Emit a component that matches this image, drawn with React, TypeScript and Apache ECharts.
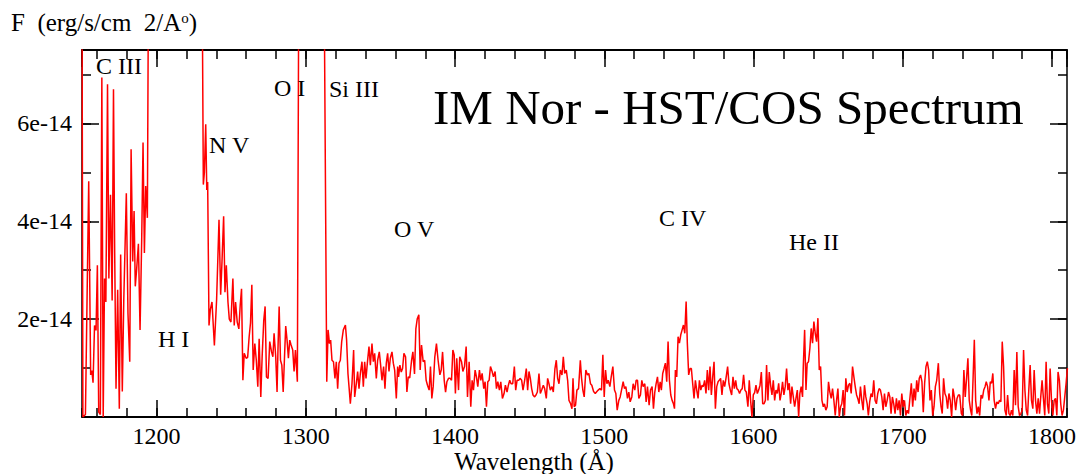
import React, { useEffect, useRef } from "react";
import * as echarts from "echarts";

// Flux values are in units of 1e-14 erg/s/cm2/A ; wavelength in Angstrom
const cIIIRegion: [number, number][] = [
  [1150.0, 9.0], [1150.6, 0.0], [1152.3, 0.05], [1154.5, 4.82], [1155.8, 0.86], [1156.6, 0.95],
  [1157.4, 0.7], [1158.4, 1.87], [1159.4, 1.77], [1160.3, 3.1], [1161.2, 0.1], [1162.3, 0.05],
  [1163.3, 6.94], [1164.2, 0.0], [1165.1, 2.83], [1166.0, 2.35], [1167.1, 6.8], [1168.0, 2.83],
  [1169.1, 4.54], [1170.2, 2.38], [1171.1, 6.7], [1171.9, 3.35], [1172.8, 0.58], [1173.9, 2.6],
  [1175.0, 0.17], [1175.9, 3.32], [1177.0, 0.52], [1178.0, 2.4], [1179.7, 4.57], [1180.8, 2.12],
  [1182.0, 1.13], [1182.9, 5.47], [1184.0, 3.18], [1184.9, 4.21], [1185.7, 2.67], [1186.6, 3.01],
  [1187.8, 3.54], [1188.9, 1.78], [1190.0, 3.63], [1190.9, 5.61], [1191.8, 3.35], [1192.7, 4.72],
  [1193.8, 4.07], [1195.0, 12.0],
];

const lymanAlphaRegion: [number, number][] = [
  [1196.5, 18], [1200, 25], [1205, 35], [1210, 50], [1215, 90], [1220, 45], [1225, 25], [1229, 14],
];

const nVRegion: [number, number][] = [
  [1230.3, 10], [1231.3, 4.75], [1232.0, 5.0], [1232.9, 5.98], [1233.6, 4.64], [1234.2, 4.8],
  [1235.1, 1.87], [1236.0, 2.2], [1237.1, 2.35], [1238.7, 1.46], [1240.2, 2.4], [1241.8, 4.03],
  [1242.9, 2.5], [1243.8, 3.17], [1244.9, 4.1], [1245.8, 2.55], [1246.7, 3.1], [1247.8, 2.35],
  [1248.7, 2.0], [1249.8, 1.94], [1251.1, 2.83], [1252.0, 1.87], [1252.9, 2.35], [1254.0, 1.94],
  [1255.1, 1.8], [1256.0, 2.28], [1256.9, 2.62], [1257.8, 0.75], [1258.7, 1.3], [1260.0, 1.2],
  [1261.0, 1.22], [1262.0, 1.64], [1262.9, 1.92], [1263.8, 2.7], [1264.7, 0.96], [1265.8, 1.5],
  [1266.8, 1.16], [1267.8, 0.62], [1268.7, 1.6], [1269.8, 0.41], [1270.7, 1.23], [1271.8, 1.98],
  [1272.7, 2.26], [1273.6, 0.82], [1274.7, 0.79], [1275.8, 1.54], [1277.0, 1.33], [1277.9, 1.23],
  [1278.7, 1.71], [1279.8, 1.23], [1280.7, 0.51], [1281.3, 1.37], [1282.1, 2.26], [1283.0, 1.16],
  [1283.9, 1.06], [1284.8, 0.51], [1285.7, 1.23], [1286.5, 1.86], [1287.4, 1.57], [1288.3, 1.2],
  [1289.2, 1.57], [1290.1, 1.47], [1291.2, 1.37], [1292.1, 0.93], [1293.0, 1.37], [1294.3, 0.72],
  [1295.6, 12],
];

const oISiIIIRegion: [number, number][] = [
  [1298, 25], [1302, 40], [1306, 30], [1310, 20], [1312.0, 10],
];

const blueContinuum: [number, number][] = [
  [1314.0, 0.72], [1314.9, 1.78], [1315.8, 1.5], [1316.6, 1.57], [1317.5, 1.16], [1318.5, 1.13],
  [1319.5, 0.79], [1320.4, 1.13], [1321.3, 0.58], [1322.2, 1.1], [1323.1, 1.16], [1324.0, 1.54],
  [1325.1, 1.78], [1326.5, 1.88], [1327.3, 1.57], [1328.2, 0.89], [1329.1, 0.55], [1329.8, 0.27],
  [1330.9, 0.68], [1332.0, 1.37], [1332.7, 0.41], [1333.8, 0.68], [1334.7, 0.93], [1335.6, 0.58],
  [1336.5, 0.89], [1337.6, 1.13], [1338.5, 0.62], [1339.4, 1.13], [1340.3, 0.79], [1341.2, 1.1],
  [1342.3, 1.44], [1343.2, 1.06], [1344.3, 1.5], [1345.2, 1.13], [1346.1, 1.3], [1347.2, 0.79],
  [1348.1, 1.16], [1349.2, 1.33], [1350.1, 1.06], [1351.0, 0.75], [1352.1, 1.03], [1353.0, 0.58],
  [1353.9, 1.1], [1354.8, 1.3], [1355.7, 0.93], [1356.6, 1.2], [1357.7, 1.33], [1358.6, 1.1],
  [1359.5, 0.96], [1360.6, 0.38], [1361.5, 1.03], [1362.1, 0.82], [1363.0, 1.06], [1363.9, 0.92],
  [1364.8, 0.99], [1365.7, 1.3], [1366.8, 1.23], [1367.7, 0.51], [1368.6, 0.82], [1369.6, 0.8],
  [1370.8, 1.15], [1371.7, 1.33], [1372.8, 0.88], [1373.7, 1.8], [1374.6, 2.0], [1375.7, 2.09],
  [1376.6, 0.96], [1377.5, 1.47], [1378.6, 1.13], [1379.6, 1.16], [1380.6, 0.75], [1381.5, 0.65],
  [1382.6, 0.55], [1383.5, 1.03], [1384.4, 0.38], [1385.3, 0.62], [1386.4, 1.23], [1387.5, 1.5],
  [1388.6, 1.16], [1389.8, 0.86], [1390.7, 0.96], [1391.6, 1.33], [1392.7, 0.75], [1393.6, 0.51],
  [1394.5, 0.72], [1395.6, 0.79], [1396.7, 0.79], [1397.6, 0.75], [1398.5, 1.37], [1399.4, 1.27],
];

const midContinuum: [number, number][] = [
  [1400.2, 0.48], [1401.1, 1.2], [1402.3, 0.55], [1403.1, 1.23], [1404.3, 1.13], [1405.2, 0.93],
  [1406.3, 1.03], [1407.4, 1.44], [1408.3, 0.41], [1409.4, 1.13], [1410.5, 0.21], [1411.4, 0.75],
  [1412.3, 0.55], [1413.4, 0.96], [1414.3, 0.82], [1415.2, 0.62], [1416.3, 0.96], [1417.2, 0.75],
  [1418.1, 0.89], [1419.2, 0.58], [1420.1, 0.72], [1421.0, 0.21], [1421.9, 0.72], [1422.8, 0.75],
  [1423.7, 1.03], [1424.8, 0.93], [1425.7, 0.82], [1426.8, 0.93], [1427.7, 0.58], [1428.6, 0.72],
  [1429.7, 0.55], [1430.6, 0.72], [1431.7, 0.38], [1432.8, 0.48], [1433.7, 0.65], [1434.8, 0.51],
  [1435.7, 0.65], [1436.6, 0.75], [1437.5, 0.68], [1438.6, 0.68], [1439.7, 1.03], [1440.6, 0.55],
  [1441.5, 0.75], [1442.6, 0.75], [1443.5, 0.79], [1444.6, 0.75], [1445.5, 0.55], [1446.6, 0.75],
  [1447.7, 0.99], [1448.6, 0.55], [1449.5, 0.93], [1450.4, 0.79], [1451.3, 0.58], [1452.2, 0.45],
  [1453.3, 0.41], [1454.2, 0.45], [1455.1, 0.51], [1456.2, 0.89], [1457.1, 0.48], [1458.0, 0.55],
  [1459.1, 0.65], [1460.0, 0.58], [1461.1, 0.38], [1462.0, 0.79], [1462.9, 0.68], [1463.8, 0.55],
  [1464.9, 0.62], [1465.8, 0.51], [1466.9, 0.99], [1467.8, 1.16], [1468.7, 0.79], [1469.6, 0.68],
  [1470.5, 0.96], [1471.6, 0.86], [1472.5, 1.23], [1473.4, 0.89], [1474.5, 0.96], [1475.4, 0.75],
  [1476.3, 0.34], [1477.4, 0.27], [1478.3, 0.17], [1479.0, 0.79], [1479.8, 0.21], [1480.7, 0.24],
  [1481.6, 0.55], [1482.7, 0.58], [1483.9, 1.16], [1484.7, 0.8], [1485.6, 0.55], [1486.5, 0.41],
  [1487.6, 0.96], [1488.7, 0.86], [1489.6, 0.89], [1490.7, 0.68], [1491.6, 0.65], [1492.8, 0.52],
  [1493.9, 0.48], [1495.0, 0.52], [1495.9, 0.55], [1497.0, 0.58], [1498.1, 0.55], [1499.0, 1.27],
  [1499.9, 0.41],
];

const cIVRegion: [number, number][] = [
  [1500.8, 0.96], [1501.7, 0.68], [1502.6, 0.75], [1503.7, 0.62], [1504.6, 0.82], [1505.7, 1.03],
  [1506.8, 0.55], [1507.7, 0.48], [1508.6, 0.14], [1509.7, 0.34], [1510.6, 0.41], [1511.5, 0.55],
  [1512.6, 0.72], [1513.5, 0.58], [1514.4, 0.62], [1515.5, 0.38], [1516.4, 0.51], [1517.3, 0.31],
  [1518.4, 0.41], [1519.3, 0.68], [1520.4, 0.55], [1521.3, 0.75], [1522.2, 0.75], [1523.1, 0.38],
  [1524.2, 0.45], [1525.1, 0.75], [1526.0, 0.62], [1527.1, 0.68], [1528.0, 0.31], [1528.9, 0.62],
  [1530.0, 0.24], [1530.9, 0.55], [1532.0, 0.62], [1532.9, 0.17], [1533.8, 0.51], [1534.7, 0.68],
  [1535.6, 0.82], [1536.5, 0.51], [1537.4, 0.72], [1538.2, 0.55], [1539.1, 0.89], [1540.0, 0.99],
  [1540.9, 1.1], [1541.8, 0.72], [1542.7, 1.54], [1543.6, 0.75], [1544.5, 0.45], [1545.4, 0.34],
  [1546.3, 0.27], [1547.0, 0.17], [1547.6, 0.96], [1548.5, 0.82], [1549.4, 1.64], [1550.3, 1.51],
  [1551.2, 1.68], [1552.1, 1.78], [1553.0, 1.88], [1553.9, 1.71], [1554.8, 2.36], [1555.6, 1.51],
  [1556.5, 0.86], [1557.4, 0.99], [1558.3, 0.99], [1559.2, 0.68], [1560.1, 0.38], [1561.0, 0.75],
  [1561.9, 0.55], [1562.8, 0.38], [1563.7, 0.75], [1564.6, 0.55], [1565.5, 0.65], [1566.3, 0.62],
  [1567.2, 0.75], [1568.1, 0.48], [1569.0, 0.96], [1569.9, 0.55], [1570.8, 1.03], [1571.7, 0.45],
  [1572.6, 0.82], [1573.5, 1.13], [1574.4, 0.17], [1575.3, 0.62], [1576.2, 0.72], [1577.0, 0.75],
  [1577.9, 0.79], [1578.8, 0.45], [1579.7, 0.75], [1580.6, 0.62], [1581.5, 0.79], [1582.6, 1.03],
  [1583.5, 0.68], [1584.4, 0.55], [1585.3, 0.45], [1586.2, 0.82], [1587.1, 0.58], [1588.0, 0.75],
  [1588.8, 0.58], [1589.7, 0.55], [1590.6, 0.48], [1591.5, 0.55], [1592.4, 0.58], [1593.3, 0.86],
  [1594.2, 0.55], [1595.1, 0.51], [1596.2, 0.21], [1597.1, 0.75], [1598.0, 0.34], [1598.9, 0.0],
];

const heIIRegion: [number, number][] = [
  [1599.8, 0.45], [1600.7, 0.5], [1601.6, 0.65], [1602.5, 0.48], [1603.4, 0.55], [1604.3, 0.65],
  [1605.2, 0.92], [1606.1, 0.27], [1607.0, 0.27], [1607.9, 0.34], [1608.7, 1.06], [1609.6, 0.34],
  [1610.5, 0.92], [1611.4, 0.65], [1612.3, 0.45], [1613.2, 0.75], [1614.1, 0.34], [1615.0, 0.55],
  [1615.9, 0.48], [1616.8, 0.69], [1617.7, 0.34], [1618.5, 0.48], [1619.4, 0.72], [1620.3, 0.45],
  [1621.2, 0.62], [1622.1, 0.99], [1623.0, 0.55], [1623.9, 0.69], [1624.8, 0.27], [1625.7, 0.62],
  [1626.6, 0.41], [1627.5, 0.21], [1628.4, 0.38], [1629.3, 0.55], [1630.2, 0.0], [1631.0, 0.48],
  [1631.9, 0.62], [1632.8, 0.41], [1633.3, 1.03], [1634.2, 1.78], [1635.1, 0.55], [1635.9, 1.1],
  [1636.8, 1.13], [1637.7, 1.4], [1638.6, 1.81], [1639.5, 1.51], [1640.4, 1.95], [1641.3, 1.71],
  [1642.2, 1.54], [1643.1, 2.02], [1644.0, 0.96], [1644.9, 1.03], [1645.8, 0.34], [1646.7, 0.21],
  [1647.5, 0.27], [1648.4, 0.14], [1649.3, 0.21], [1650.2, 0.72], [1651.1, 0.51], [1652.0, 0.38],
  [1652.9, 0.58], [1653.8, 0.34], [1654.7, 0.03], [1655.6, 0.34], [1656.5, 0.58], [1657.4, 0.0],
  [1658.3, 0.21], [1659.1, 0.27], [1660.0, 0.55], [1660.9, 0.03], [1661.8, 0.79], [1662.7, 0.51],
  [1663.6, 0.65], [1664.5, 0.69], [1665.4, 0.48], [1666.3, 1.03], [1667.2, 0.82], [1668.1, 0.62],
  [1669.0, 0.45], [1669.8, 0.38], [1670.7, 0.27], [1671.6, 0.62], [1672.5, 0.34], [1673.4, 0.14],
  [1674.3, 0.65], [1675.2, 0.41], [1676.1, 0.27], [1676.9, 0.03], [1677.8, 0.31], [1678.7, 0.48],
  [1679.6, 0.41], [1680.5, 0.75], [1681.4, 0.34], [1682.3, 0.27], [1683.2, 0.48], [1684.1, 0.58],
  [1685.0, 0.55], [1685.9, 0.41], [1686.8, 0.14], [1687.7, 0.48], [1688.6, 0.21], [1689.5, 0.34],
  [1690.4, 0.51], [1691.3, 0.41], [1692.1, 0.07], [1693.0, 0.41], [1693.9, 0.27], [1694.8, 0.07],
  [1695.7, 0.38], [1696.6, 0.14], [1697.5, 0.34], [1698.4, 0.03], [1699.3, 0.48],
];

const redContinuum: [number, number][] = [
  [1700.2, 0.21], [1701.1, 0.34], [1702.0, 0.03], [1702.9, 0.14], [1703.8, 0.07], [1704.6, 0.34],
  [1705.7, 0.69], [1706.6, 0.21], [1707.5, 0.58], [1708.4, 0.34], [1709.3, 0.75], [1710.2, 0.51],
  [1711.0, 0.79], [1711.9, 0.86], [1712.8, 0.72], [1713.7, 0.1], [1714.6, 0.69], [1715.5, 1.03],
  [1716.4, 1.13], [1717.3, 0.96], [1718.2, 0.34], [1719.1, 0.55], [1720.0, 0.03], [1720.9, 0.21],
  [1721.8, 0.62], [1722.7, 0.75], [1723.8, 1.1], [1724.7, 0.48], [1725.6, 0.21], [1726.4, 0.07],
  [1727.3, 0.79], [1728.2, 0.48], [1729.1, 0.41], [1730.0, 0.17], [1730.9, 0.48], [1731.8, 0.34],
  [1732.7, 0.0], [1733.6, 0.58], [1734.5, 0.41], [1735.4, 0.14], [1736.3, 0.38], [1737.2, 0.45],
  [1738.1, 0.45], [1739.2, 0.07], [1740.0, 0.03], [1740.9, 0.96], [1741.8, 0.41], [1742.7, 0.79],
  [1743.6, 1.2], [1744.5, 0.34], [1745.4, 0.14], [1746.2, 0.03], [1747.1, 0.82], [1747.9, 1.58],
  [1748.8, 0.34], [1749.7, 0.07], [1750.6, 0.21], [1751.5, 0.03], [1752.4, 0.45], [1753.3, 0.38],
  [1754.2, 0.55], [1755.1, 0.62], [1755.9, 0.72], [1756.8, 0.62], [1757.7, 0.34], [1758.6, 0.72],
  [1759.5, 0.69], [1760.3, 0.89], [1761.2, 0.34], [1762.1, 0.17], [1763.0, 0.31], [1763.9, 0.27],
  [1764.8, 0.34], [1765.7, 0.31], [1766.6, 1.54], [1767.5, 1.03], [1768.4, 0.14], [1769.3, 0.03],
  [1770.2, 0.45], [1771.1, 0.07], [1772.0, 0.03], [1772.8, 0.14], [1773.7, 0.03], [1774.6, 0.96],
  [1775.5, 0.24], [1776.4, 1.33], [1777.3, 0.21], [1778.2, 0.03], [1779.1, 0.07], [1780.0, 0.14],
  [1780.9, 1.37], [1781.8, 0.55], [1782.7, 0.14], [1783.6, 0.03], [1784.4, 0.55], [1785.3, 1.06],
  [1786.2, 0.34], [1787.1, 0.17], [1788.0, 0.96], [1788.9, 0.34], [1789.8, 0.07], [1790.7, 0.38],
  [1791.6, 0.07], [1792.4, 0.41], [1793.3, 0.75], [1794.2, 0.38], [1795.1, 0.03], [1796.0, 1.13],
  [1796.9, 0.27], [1797.8, 0.07], [1798.7, 0.99], [1799.6, 0.34], [1800.5, 0.03], [1801.4, 0.34],
  [1802.3, 0.38], [1803.2, 0.03], [1804.0, 0.92], [1804.9, 0.75], [1805.8, 0.27], [1806.7, 0.03],
  [1807.6, 0.14], [1808.5, 0.41], [1809.4, 0.69], [1810.3, 1.0],
];

const spectrum: [number, number][] = [
  ...cIIIRegion, ...lymanAlphaRegion, ...nVRegion, ...oISiIIIRegion, ...blueContinuum,
  ...midContinuum, ...cIVRegion, ...heIIRegion, ...redContinuum,
];

const X_MIN = 1150;
const X_MAX = 1810;
const Y_MIN = 0;
const Y_MAX = 7.5;
const X_MAJOR = 100;
const X_MINOR = 20;
const Y_MAJOR = 2;
const Y_MINOR = 1;

const lineLabels = ["C III", "N V", "O I", "Si III", "O V", "C IV", "He II", "H I"];
const titleText = "IM Nor - HST/COS Spectrum";
const xTitle = "Wavelength (Å)";

const FONT = "'Liberation Serif', 'Times New Roman', Times, serif";

function xAxisDef(position: "top" | "bottom", step: number, major: boolean, labels: boolean) {
  return {
    type: "value",
    position,
    min: X_MIN,
    max: X_MAX,
    minInterval: step,
    maxInterval: step,
    splitLine: { show: false },
    axisLine: { show: major, onZero: false, lineStyle: { color: "#000", width: 2 } },
    axisTick: { show: true, inside: true, length: major ? 17 : 9, lineStyle: { color: "#000", width: 1.5 } },
    axisLabel: labels
      ? {
          show: true,
          margin: 7,
          color: "#000",
          fontSize: 24,
          fontFamily: FONT,
          showMinLabel: false,
          showMaxLabel: false,
          formatter: (v: number) => (v % X_MAJOR === 0 ? String(v) : ""),
        }
      : { show: false },
  };
}

function yAxisDef(position: "left" | "right", step: number, major: boolean, labels: boolean) {
  return {
    type: "value",
    position,
    min: Y_MIN,
    max: Y_MAX,
    minInterval: step,
    maxInterval: step,
    splitLine: { show: false },
    axisLine: { show: major, onZero: false, lineStyle: { color: "#000", width: 1.5 } },
    axisTick: { show: true, inside: true, length: major ? 17 : 9, lineStyle: { color: "#000", width: 1.5 } },
    axisLabel: labels
      ? {
          show: true,
          margin: 10,
          color: "#000",
          fontSize: 24,
          fontFamily: FONT,
          showMinLabel: false,
          showMaxLabel: false,
          formatter: (v: number) => (v > 0 && v % Y_MAJOR === 0 ? `${v}e-14` : ""),
        }
      : { show: false },
  };
}

function txt(text: string, x: number, y: number, fontSize: number, align: string = "left") {
  return {
    type: "text",
    x,
    y,
    silent: true,
    z: 10,
    style: { text, fontSize, fontFamily: FONT, fill: "#000", align, verticalAlign: "middle" },
  };
}

export default function App() {
  const ref = useRef<HTMLDivElement>(null);

  useEffect(() => {
    if (!ref.current) return;
    const chart = echarts.init(ref.current, undefined, { renderer: "svg" });
    chart.setOption({
      animation: false,
      backgroundColor: "#fff",
      grid: { left: 82, right: 14, top: 50, bottom: 57, containLabel: false },
      xAxis: [
        xAxisDef("bottom", X_MAJOR, true, true),
        xAxisDef("bottom", X_MINOR, false, false),
        xAxisDef("top", X_MAJOR, true, false),
        xAxisDef("top", X_MINOR, false, false),
      ],
      yAxis: [
        yAxisDef("left", Y_MAJOR, true, true),
        yAxisDef("left", Y_MINOR, false, false),
        yAxisDef("right", Y_MAJOR, true, false),
        yAxisDef("right", Y_MINOR, false, false),
      ],
      series: [
        {
          type: "line",
          xAxisIndex: 0,
          yAxisIndex: 0,
          data: spectrum,
          showSymbol: false,
          symbol: "none",
          clip: true,
          lineStyle: { color: "#ff0000", width: 1.5 },
        },
      ],
      graphic: [
        txt(titleText, 433, 107, 49),
        {
          type: "text",
          x: 11,
          y: 10,
          silent: true,
          z: 10,
          style: {
            text: "F  (erg/s/cm  2/A{s|o})",
            fontSize: 25,
            fontFamily: FONT,
            fill: "#000",
            align: "left",
            verticalAlign: "top",
            lineHeight: 25,
            rich: {
              s: { fontSize: 15, fontFamily: FONT, fill: "#000", verticalAlign: "top", lineHeight: 2 },
            },
          },
        },
        txt(xTitle, 534, 461, 25, "center"),
        txt(lineLabels[0], 96, 66, 24),
        txt(lineLabels[1], 209, 145, 24),
        txt(lineLabels[2], 274, 88, 24),
        txt(lineLabels[3], 329, 89, 24),
        txt(lineLabels[4], 394, 229, 24),
        txt(lineLabels[5], 659, 218, 24),
        txt(lineLabels[6], 789, 242, 24),
        txt(lineLabels[7], 158, 339, 24),
      ],
    });
    return () => chart.dispose();
  }, []);

  return (
    <div
      ref={ref}
      style={{ position: "fixed", left: 0, top: 0, width: 1081, height: 474, background: "#fff" }}
    />
  );
}
